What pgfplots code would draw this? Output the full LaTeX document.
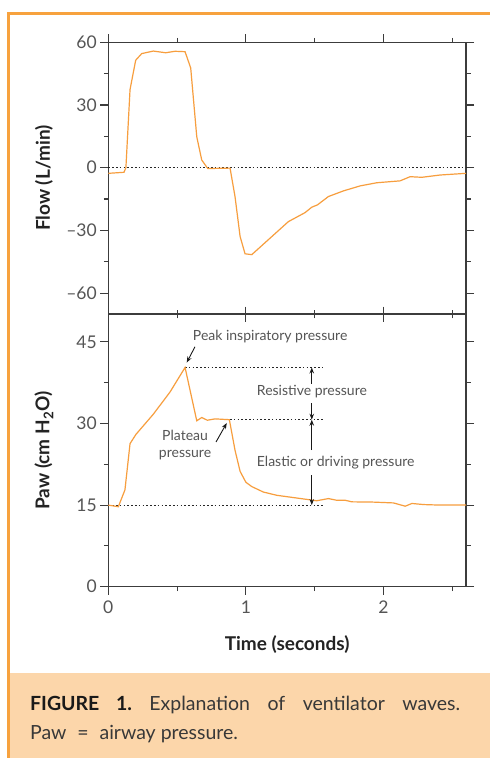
\documentclass[border=0pt]{standalone}
\usepackage{pgfplots}
\pgfplotsset{compat=1.18}
\usetikzlibrary{arrows.meta}
\usepackage{fontspec}
\setmainfont{Lato}
\frenchspacing
\definecolor{orng}{RGB}{247,162,62}
\definecolor{curve}{RGB}{247,158,62}
\definecolor{capbg}{RGB}{252,214,170}
\definecolor{axgray}{RGB}{60,60,60}
\definecolor{txtgray}{RGB}{85,85,85}
\definecolor{lblgray}{RGB}{35,35,35}
\pgfplotsset{vent/.style={
  scale only axis, width=357.7pt,
  xmin=0, xmax=2.6,
  xtick={0,1,2}, minor xtick={0.5,1.5,2.5},
  tick align=outside, xtick pos=both, ytick pos=both,
  xticklabel pos=lower, yticklabel pos=left,
  axis line style={axgray, line width=1.1pt},
  major tick style={axgray, line width=1.1pt},
  minor tick style={axgray, line width=1.1pt},
  major tick length=8pt, minor tick length=4.5pt,
  every tick label/.append style={font=\fontsize{17.5}{18}\selectfont, text=txtgray},
  xticklabel style={yshift=-3pt},
  /pgf/number format/assume math mode=true,
  label style={font=\fontsize{19}{20}\selectfont\bfseries, text=lblgray},
  ylabel style={at={(axis description cs:-0.18,0.5)}, anchor=center},
  clip=false,
}}
\tikzset{refdot/.style={black!85, line width=1.1pt, dash pattern=on 1.6pt off 2.2pt}}
\begin{document}
\begin{tikzpicture}[x=1pt,y=1pt]
\useasboundingbox (0,0) rectangle (490,758);
\fill[white] (0,0) rectangle (490,758);
\fill[capbg] (9.5,0) rectangle (490,85);
\draw[orng, line width=3pt] (8.3,0) -- (8.3,744.5) -- (490,744.5);
\node[anchor=base west, inner sep=0, text width=430pt, align=justify,
      font=\fontsize{19.5}{29.3}\selectfont, text=black!78] at (30,47.3)
  {{\bfseries\color{black!90}FIGURE 1.} Explanation of ventilator waves.\linebreak Paw\hspace{0.3em} = \hspace{0.3em}airway pressure.};

\begin{axis}[vent, at={(108.3pt,444pt)}, anchor=south west, height=271.7pt,
  ymin=-70, ymax=60,
  ytick={-60,-30,0,30,60}, yticklabels={--60,--30,0,30,60},
  minor ytick={-45,-15,15,45},
  xticklabels={},
  ylabel={Flow (L/min)}]
\addplot[refdot] coordinates {(0,0) (2.6,0)};
\addplot[curve, line width=1.2pt] coordinates {
(0,-2.7) (0.114,-2.2) (0.128,0) (0.158,37.4) (0.199,51.4) (0.243,54.6) (0.327,55.8)
(0.417,55.0) (0.485,55.7) (0.558,55.5) (0.599,47.7) (0.643,14.8) (0.679,3.7) (0.723,-0.4)
(0.885,-0.2) (0.921,-13.8) (0.958,-32.9) (0.994,-41.2) (1.043,-41.6) (1.309,-25.8)
(1.43,-21.5) (1.479,-18.9) (1.52,-17.8) (1.6,-13.8) (1.709,-11.1) (1.831,-8.7)
(1.952,-7.2) (2.121,-6.3) (2.194,-4.3) (2.279,-4.6) (2.412,-3.5) (2.6,-2.7)};
\end{axis}

\begin{axis}[vent, at={(108.3pt,171.3pt)}, anchor=south west, height=272pt,
  ymin=0, ymax=50,
  ytick={0,15,30,45}, minor ytick={7.5,22.5,37.5},
  xticklabels={0,1,2},
  ylabel={Paw (cm H\textsubscript{2}O)},
  xlabel={Time (seconds)},
  xlabel style={at={(axis description cs:0.5,-0.2143)}, anchor=center}]
\addplot[refdot] coordinates {(0,15) (1.571,15)};
\addplot[refdot] coordinates {(0.558,40.3) (1.571,40.3)};
\addplot[refdot] coordinates {(0.885,30.7) (1.571,30.7)};
\addplot[curve, line width=1.2pt] coordinates {
(0,15.0) (0.073,14.7) (0.121,17.8) (0.158,26.3) (0.201,28.0) (0.327,31.7) (0.449,35.8)
(0.558,40.3) (0.643,30.5) (0.679,31.1) (0.72,30.6) (0.776,30.85) (0.88,30.7) (0.921,25.1)
(0.958,21.2) (1.0,19.2) (1.043,18.4) (1.127,17.4) (1.225,16.8) (1.37,16.3) (1.515,15.8)
(1.6,16.2) (1.658,15.9) (1.72,15.9) (1.77,15.6) (1.927,15.55) (2.073,15.4) (2.158,14.8)
(2.207,15.3) (2.291,15.1) (2.412,15.0) (2.6,15.0)};
\begin{scope}[black!90, line width=0.9pt, -{Stealth[length=6pt,width=4.5pt]}]
\draw (axis cs:1.479,37.3) -- (axis cs:1.479,40.3);
\draw (axis cs:1.479,33.7) -- (axis cs:1.479,30.7);
\draw (axis cs:1.479,25.1) -- (axis cs:1.479,30.7);
\draw (axis cs:1.479,20.5) -- (axis cs:1.479,15.0);
\draw (axis cs:0.63,44.1) -- (axis cs:0.57,41.2);
\draw (axis cs:0.783,26.6) -- (axis cs:0.861,30.1);
\end{scope}
\begin{scope}[every node/.style={font=\fontsize{14}{16.5}\selectfont, text=txtgray, inner sep=0}]
\node[anchor=west] at (axis cs:1.079,35.9) {Resistive pressure};
\node[anchor=west] at (axis cs:1.079,22.8) {Elastic or driving pressure};
\node[anchor=west] at (axis cs:0.614,46.0) {Peak inspiratory pressure};
\node[align=center] at (axis cs:0.558,26.0) {Plateau\\pressure};
\end{scope}
\end{axis}
\end{tikzpicture}
\end{document}
